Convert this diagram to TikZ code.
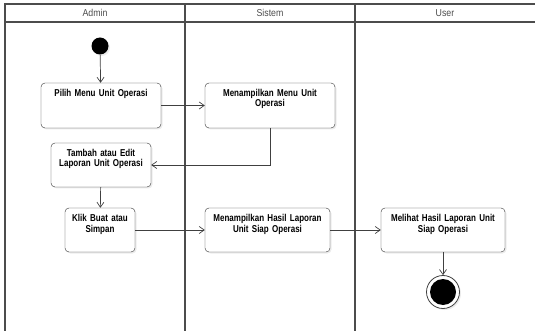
\documentclass[tikz,border=0pt]{standalone}
\usepackage{fontspec}
\newfontfamily\umlfont[FakeStretch=0.88]{Liberation Sans}
\newfontfamily\actfont[FakeStretch=0.8]{Liberation Sans}
\usetikzlibrary{arrows.meta,shadows}

\begin{document}
\begin{tikzpicture}[x=1pt,y=-1pt,
	lane/.style={draw=black!70,line width=1.3pt},
	lanehead/.style={text=black!70,font=\umlfont\fontsize{10}{12}\selectfont},
	act/.style={draw=black!80,fill=white,rounded corners=4pt,inner sep=0pt,align=center,text height=14pt,
		font=\actfont\bfseries\fontsize{10}{10}\selectfont,
		drop shadow={shadow xshift=1.5pt,shadow yshift=-1.5pt,fill=black!15}},
	flow/.style={draw=black!75,line width=0.7pt,-{Straight Barb[length=5pt,width=7pt]}}]
	\useasboundingbox (0,0) rectangle (535,331);
	% swimlanes
	\draw[lane] (535,4) -- (5,4) -- (5,331);
	\draw[lane] (5,22) -- (535,22);
	\draw[lane] (185,4) -- (185,331);
	\draw[lane] (355,4) -- (355,331);
	\node[lanehead] (hadmin) at (95,13) {Admin};
	\node[lanehead] (hsistem) at (270,13) {Sistem};
	\node[lanehead] (huser) at (445,13) {User};
	% activities
	\node[circle,fill=black,minimum size=17pt,inner sep=0pt,drop shadow={shadow xshift=1.5pt,shadow yshift=-1.5pt,fill=black!15}] (start) at (100,46) {};
	\node[act,text width=120pt,text depth=31pt] (pilih) at (101,105.5) {Pilih Menu Unit Operasi};
	\node[act,text width=130pt,text depth=31pt] (menu) at (270,105.5) {Menampilkan Menu Unit\\Operasi};
	\node[act,text width=100pt,text depth=30pt] (tambah) at (101,165) {Tambah atau Edit\\Laporan Unit Operasi};
	\node[act,text width=70pt,text depth=30pt] (klik) at (100,230) {Klik Buat atau\\Simpan};
	\node[act,text width=125pt,text depth=30pt] (hasil) at (267.5,230) {Menampilkan Hasil Laporan\\Unit Siap Operasi};
	\node[act,text width=124pt,text depth=30pt] (lihat) at (443,230) {Melihat Hasil Laporan Unit\\Siap Operasi};
	\node[circle,draw=black!75,fill=white,line width=0.8pt,minimum size=33pt,inner sep=0pt,drop shadow={shadow xshift=1.5pt,shadow yshift=-1.5pt,fill=black!15}] (end) at (443,292) {};
	\node[circle,fill=black,minimum size=26pt,inner sep=0pt] (endin) at (end) {};
	% flows
	\draw[flow] (start) -- (pilih);
	\draw[flow] (pilih) -- (menu);
	\draw[flow] (menu.south) |- (tambah.east);
	\draw[flow] (tambah) -- (klik);
	\draw[flow] (klik) -- (hasil);
	\draw[flow] (hasil) -- (lihat);
	\draw[flow] (lihat) -- (end);
\end{tikzpicture}
\end{document}
